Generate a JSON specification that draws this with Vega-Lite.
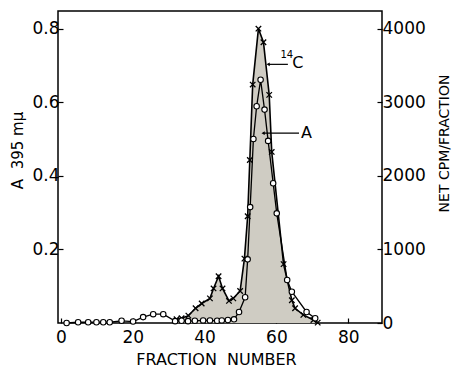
{
  "$schema": "https://vega.github.io/schema/vega-lite/v6.json",
  "width": 324,
  "height": 312,
  "autosize": {"type": "none"},
  "padding": {"left": 58, "top": 11, "right": 70, "bottom": 46},
  "background": "white",
  "config": {
    "view": {"stroke": "black", "strokeWidth": 1.5},
    "font": "DejaVu Sans",
    "axis": {
      "domain": false,
      "grid": false,
      "tickColor": "black",
      "tickWidth": 1.2,
      "tickSize": -5,
      "labelColor": "black",
      "labelFontSize": 17,
      "labelFont": "DejaVu Sans",
      "titleColor": "black",
      "titleFont": "DejaVu Sans",
      "titleFontWeight": "normal",
      "titleFontSize": 14
    }
  },
  "datasets": {
    "absorbance": [
      {"fraction": 1.6, "A": 0.0},
      {"fraction": 4.8, "A": 0.002},
      {"fraction": 7.6, "A": 0.002},
      {"fraction": 9.9, "A": 0.002},
      {"fraction": 11.8, "A": 0.002},
      {"fraction": 13.6, "A": 0.002},
      {"fraction": 16.9, "A": 0.006},
      {"fraction": 20.1, "A": 0.004},
      {"fraction": 22.9, "A": 0.016},
      {"fraction": 25.7, "A": 0.024},
      {"fraction": 28.5, "A": 0.024},
      {"fraction": 31.8, "A": 0.005},
      {"fraction": 33.6, "A": 0.006},
      {"fraction": 35.4, "A": 0.005},
      {"fraction": 37.3, "A": 0.006},
      {"fraction": 39.6, "A": 0.007},
      {"fraction": 41.5, "A": 0.007},
      {"fraction": 43.5, "A": 0.006},
      {"fraction": 44.8, "A": 0.007},
      {"fraction": 46.5, "A": 0.008},
      {"fraction": 48.2, "A": 0.01},
      {"fraction": 49.6, "A": 0.03},
      {"fraction": 51.3, "A": 0.07},
      {"fraction": 52.0, "A": 0.173},
      {"fraction": 52.7, "A": 0.315},
      {"fraction": 53.6, "A": 0.5},
      {"fraction": 54.5, "A": 0.589},
      {"fraction": 55.6, "A": 0.661},
      {"fraction": 56.7, "A": 0.58},
      {"fraction": 57.7, "A": 0.495},
      {"fraction": 59.1, "A": 0.38},
      {"fraction": 60.1, "A": 0.298},
      {"fraction": 63.0, "A": 0.117},
      {"fraction": 64.3, "A": 0.085},
      {"fraction": 68.4, "A": 0.03},
      {"fraction": 70.8, "A": 0.013}
    ],
    "c14": [
      {"fraction": 32.2, "cpm": 50},
      {"fraction": 33.6, "cpm": 65},
      {"fraction": 35.5, "cpm": 100},
      {"fraction": 37.5, "cpm": 200},
      {"fraction": 39.2, "cpm": 265},
      {"fraction": 41.5, "cpm": 335},
      {"fraction": 42.5, "cpm": 470},
      {"fraction": 43.9, "cpm": 635},
      {"fraction": 45.0, "cpm": 470},
      {"fraction": 46.8, "cpm": 300},
      {"fraction": 48.0, "cpm": 335},
      {"fraction": 49.9, "cpm": 435},
      {"fraction": 51.1, "cpm": 875},
      {"fraction": 52.0, "cpm": 1450},
      {"fraction": 52.6, "cpm": 2215},
      {"fraction": 53.4, "cpm": 3240},
      {"fraction": 55.0, "cpm": 4000},
      {"fraction": 56.4, "cpm": 3815},
      {"fraction": 58.0, "cpm": 3100},
      {"fraction": 58.7, "cpm": 2325},
      {"fraction": 62.0, "cpm": 800},
      {"fraction": 64.3, "cpm": 310},
      {"fraction": 65.2, "cpm": 200},
      {"fraction": 67.5, "cpm": 110},
      {"fraction": 70.3, "cpm": 40},
      {"fraction": 71.5, "cpm": 5}
    ],
    "notes": [
      {"label": "14", "fraction": 62.9, "A": 0.728},
      {"label": "C", "fraction": 66.0, "A": 0.706},
      {"label": "A", "fraction": 68.4, "A": 0.516}
    ],
    "arrows": [
      {"name": "14C", "fraction": 57.7, "fraction2": 63.2, "A": 0.703},
      {"name": "A", "fraction": 56.3, "fraction2": 66.3, "A": 0.516}
    ]
  },
  "layer": [
    {
      "data": {"name": "c14"},
      "encoding": {
        "x": {"field": "fraction", "type": "quantitative", "scale": {"domain": [-0.8, 89.4], "nice": false, "zero": false},
              "axis": {"values": [0, 20, 40, 60, 80], "title": "FRACTION\u00a0\u00a0NUMBER", "titleFontSize": 16, "labelPadding": 11, "titlePadding": 6, "titleX": 158}},
        "y": {"field": "cpm", "type": "quantitative", "scale": {"domain": [0, 4240], "nice": false},
              "axis": {"orient": "right", "values": [0, 1000, 2000, 3000, 4000], "format": "d", "labelPadding": 5, "title": "NET CPM/FRACTION", "titleAngle": -90, "titleBaseline": "top", "titlePadding": 12, "titleY": 132}}
      },
      "layer": [
        {"mark": {"type": "area", "color": "#cfccc3", "opacity": 1}},
        {"mark": {"type": "line", "color": "black", "strokeWidth": 1.6}},
        {"mark": {"type": "point", "shape": "M-1,-1L1,1M-1,1L1,-1", "filled": false, "stroke": "black", "strokeWidth": 1.3, "size": 30, "opacity": 1}}
      ]
    },
    {
      "encoding": {
        "x": {"field": "fraction", "type": "quantitative"},
        "y": {"field": "A", "type": "quantitative", "scale": {"domain": [0, 0.848], "nice": false},
              "axis": {"orient": "left", "values": [0.2, 0.4, 0.6, 0.8], "format": ".1f", "labelPadding": 4, "title": "A\u00a0\u00a0395 mμ", "titleFontSize": 15, "titlePadding": 6, "titleY": 139}}
      },
      "layer": [
        {"data": {"name": "absorbance"}, "mark": {"type": "line", "color": "black", "strokeWidth": 1.3}},
        {"data": {"name": "absorbance"}, "mark": {"type": "point", "shape": "circle", "filled": true, "fill": "white", "stroke": "black", "strokeWidth": 1.1, "size": 30, "opacity": 1}},
        {"data": {"name": "arrows"}, "mark": {"type": "rule", "color": "black", "strokeWidth": 1.2}, "encoding": {"x2": {"field": "fraction2"}}},
        {"data": {"name": "arrows"}, "mark": {"type": "point", "shape": "triangle-left", "filled": true, "color": "black", "size": 14, "opacity": 1}},
        {"data": {"name": "notes"}, "transform": [{"filter": "datum.label == '14'"}], "mark": {"type": "text", "fontSize": 10, "color": "black", "font": "DejaVu Sans"}, "encoding": {"text": {"field": "label"}}},
        {"data": {"name": "notes"}, "transform": [{"filter": "datum.label != '14'"}], "mark": {"type": "text", "fontSize": 16, "color": "black", "font": "DejaVu Sans"}, "encoding": {"text": {"field": "label"}}}
      ]
    }
  ],
  "resolve": {"scale": {"y": "independent"}}
}
